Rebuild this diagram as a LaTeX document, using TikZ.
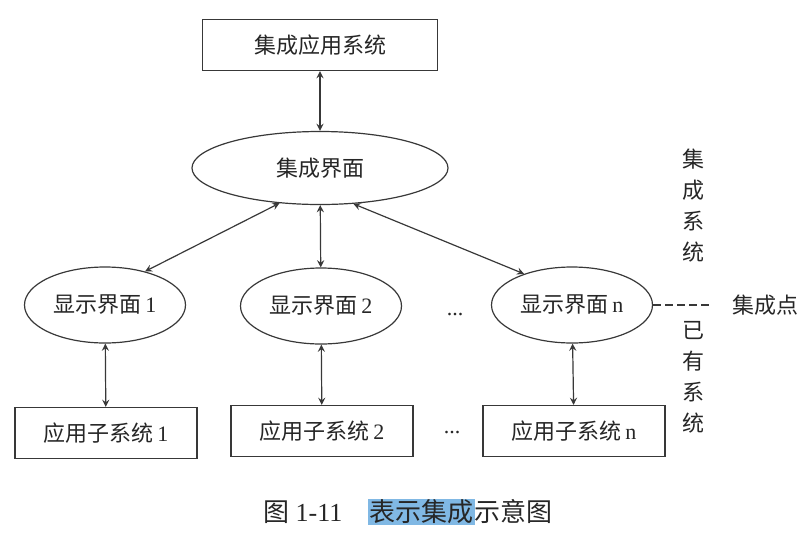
\documentclass[tikz,border=0pt]{standalone}
\usepackage{fontspec}
\setmainfont{Liberation Serif}
\newfontfamily\cjk{Noto Sans CJK SC}
\usetikzlibrary{shapes.geometric}
\definecolor{hlblue}{RGB}{128,184,228}
\setlength{\fboxsep}{0.6pt}
\tikzset{
	topbox/.style={draw, rectangle, minimum width=117.5pt, minimum height=25.5pt, inner sep=0pt, font=\fontsize{11}{13}\selectfont\cjk},
	sysbox/.style={draw, rectangle, minimum width=91pt, minimum height=25.5pt, inner sep=0pt},
	mainell/.style={draw, ellipse, minimum width=128pt, minimum height=36.5pt, inner sep=0pt, font=\fontsize{11}{13}\selectfont\cjk},
	jmell/.style={draw, ellipse, minimum width=80.5pt, minimum height=38pt, inner sep=0pt},
	vtext/.style={align=center, inner sep=0pt, font=\fontsize{11}{15.5}\selectfont\cjk},
}
\begin{document}
\begin{tikzpicture}[>=stealth, x=0.5pt, y=-0.5pt, line width=0.6pt, color=black!78, text=black!85, font=\fontsize{11}{13}\selectfont]
	\useasboundingbox (0,0) rectangle (808,536);
	
	% 集成系统部分
	\node[topbox] (jcyy) at (320,45) {集成应用系统};
	\node[mainell] (jcjm) at (320,168) {集成界面};
	
	% 显示界面
	\node[jmell] (xs1) at (105,305) {{\cjk 显示界面}\,1};
	\node[jmell] (xs2) at (321,306) {{\cjk 显示界面}\,2};
	\node[jmell] (xsn) at (572,305) {{\cjk 显示界面}\,n};
	\node[inner sep=0pt] (dots1) at (455,315) {...};
	
	% 已有系统
	\node[sysbox] (zx1) at (106,433) {{\cjk 应用子系统}\,1};
	\node[sysbox] (zx2) at (322,431) {{\cjk 应用子系统}\,2};
	\node[sysbox] (zxn) at (574,431) {{\cjk 应用子系统}\,n};
	\node[inner sep=0pt] (dots2) at (452,433) {...};
	
	% 右侧说明
	\node[vtext] (jcxt) at (693,206) {集\\成\\系\\统};
	\node[vtext] (yyxt) at (693,377) {已\\有\\系\\统};
	\node[font=\fontsize{11}{13}\selectfont\cjk, inner sep=0pt] (jcd) at (765,305) {集成点};
	
	% 连线
	\draw[<->] (jcyy) -- (jcjm);
	\draw[<->] (jcjm.-139) -- (xs1.40);
	\draw[<->] (jcjm) -- (xs2);
	\draw[<->] (jcjm.-47) -- (xsn.147);
	\draw[<->] (xs1) -- (zx1);
	\draw[<->] (xs2) -- (zx2);
	\draw[<->] (xsn) -- (zxn);
	\draw[dashed, dash pattern=on 4pt off 2pt, shorten >=9.5pt] (xsn) -- (jcd);
	
	% 图题
	\node[font=\fontsize{13}{15}\selectfont] (tuti) at (408,512) {{\cjk 图} 1-11\quad\colorbox{hlblue}{\cjk 表示集成}{\cjk 示意图}};
\end{tikzpicture}
\end{document}
